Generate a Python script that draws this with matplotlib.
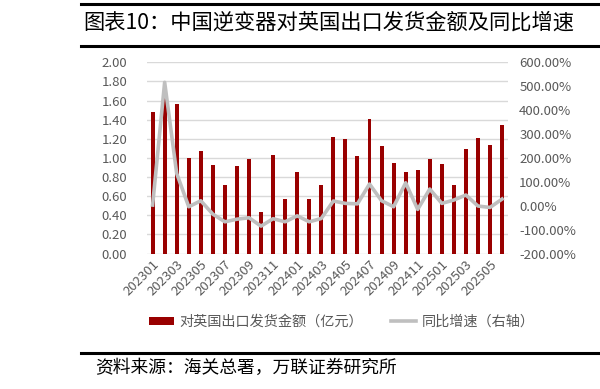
import matplotlib
matplotlib.use("agg")
import matplotlib.pyplot as plt
from matplotlib.lines import Line2D
from matplotlib.ticker import FuncFormatter
import numpy as np

plt.rcParams["font.family"] = ["Noto Sans CJK SC", "DejaVu Sans"]

months = [f"{y}{m:02d}" for y in (2023, 2024, 2025) for m in range(1, 13)][:30]
export_value = [1.48, 1.64, 1.56, 1.00, 1.07, 0.93, 0.72, 0.92, 0.99, 0.43,
                1.03, 0.57, 0.85, 0.57, 0.72, 1.22, 1.20, 1.02, 1.41, 1.12,
                0.95, 0.85, 0.87, 0.99, 0.94, 0.72, 1.09, 1.21, 1.13, 1.34]
yoy_growth = [3, 516, 135, -4, 21, -35, -67, -56, -50, -85,
              -54, -67, -42, -67, -53, 20, 10, 8, 91, 21,
              -4, 96, -15, 70, 10, 24, 45, -1, -7, 28]

BAR = "#990000"
LINE = "#BFBFBF"
TXT = "#595959"

fig = plt.figure(figsize=(6, 3.89), dpi=100)
ax = fig.add_axes([0.2443, 0.348, 0.6025, 0.492])
ax2 = ax.twinx()

x = np.arange(len(months))
bars = ax.bar(x, export_value, width=0.33, color=BAR, zorder=3)
line, = ax2.plot(x, yoy_growth, color=LINE, lw=2.6, zorder=4)

ax.set_ylim(0, 2.0)
ax.set_yticks(np.arange(0, 2.01, 0.2))
ax.yaxis.set_major_formatter(FuncFormatter(lambda v, p: f"{v:.2f}"))
ax2.set_ylim(-200, 600)
ax2.set_yticks(np.arange(-200, 601, 100))
ax2.yaxis.set_major_formatter(FuncFormatter(lambda v, p: f"{v:.2f}%"))
ax.set_xlim(-0.5, len(months) - 0.5)

ax.set_xticks(x[::2])
ax.set_xticklabels(months[::2], rotation=45, ha="right", va="top",
                   rotation_mode="anchor", fontsize=8.5, color=TXT)
ax.grid(axis="y", color="#D9D9D9", lw=1, zorder=0)
ax.set_axisbelow(True)
ax2.set_zorder(ax.get_zorder() + 1)
ax2.patch.set_visible(False)

for a in (ax, ax2):
    for s in a.spines.values():
        s.set_visible(False)
    a.tick_params(length=0, labelsize=9.5, colors=TXT)
ax.tick_params(axis="y", pad=14)
ax2.tick_params(axis="y", pad=8)
ax.tick_params(axis="x", pad=3)

leg = ax.legend([bars, line], ["对英国出口发货金额（亿元）", "同比增速（右轴）"],
                loc="center left", bbox_to_anchor=(0.248, 0.172),
                bbox_transform=fig.transFigure,
                ncol=2, frameon=False, fontsize=10.2, labelcolor=TXT,
                handlelength=1.75, handleheight=0.55, columnspacing=2.0,
                handletextpad=0.4, borderpad=0, borderaxespad=0)

# header / footer rules
for yy in (0.991, 0.882, 0.093):
    fig.add_artist(Line2D([0.135, 1.0], [yy, yy], color="black", lw=2.2))

fig.text(0.138, 0.942, "图表10：中国逆变器对英国出口发货金额及同比增速",
         fontsize=15.3, va="center", ha="left", color="black")
fig.text(0.158, 0.053, "资料来源：海关总署，万联证券研究所",
         fontsize=12.8, va="center", ha="left", color="black")

plt.savefig("out.png", dpi=100, facecolor="white")
